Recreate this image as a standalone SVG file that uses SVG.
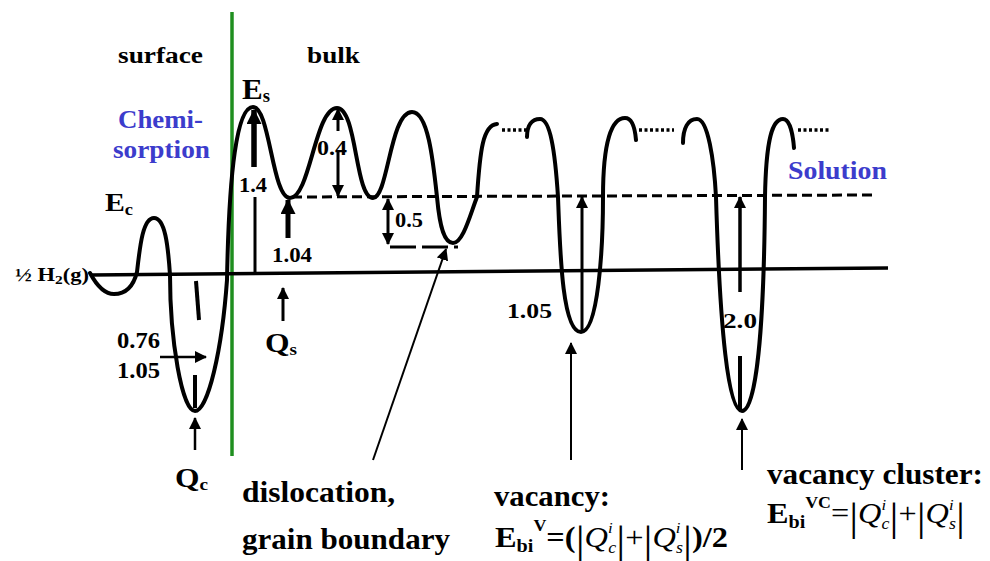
<svg xmlns="http://www.w3.org/2000/svg" width="990" height="561" viewBox="0 0 990 561">
<style>
text{font-family:'Liberation Serif','DejaVu Serif',serif;font-weight:bold;fill:#000}
.blue{fill:#3c3ccc}
.n{font-weight:normal}
.it{font-style:italic;font-weight:normal}
.curve{fill:none;stroke:#000;stroke-width:4;stroke-linecap:round;stroke-linejoin:round}
.ln{stroke:#000;fill:none}
.dash{stroke:#000;stroke-width:3;fill:none;stroke-dasharray:10 5}
.dot{stroke:#000;stroke-width:3.5;fill:none;stroke-dasharray:3 2.5}
</style>
<defs>
<marker id="ah" viewBox="0 0 12 12" refX="11" refY="6" markerWidth="12" markerHeight="12" markerUnits="userSpaceOnUse" orient="auto-start-reverse"><path d="M0,0 L12,6 L0,12 z" fill="#000"/></marker>
<marker id="ahL" viewBox="0 0 14 14" refX="13" refY="7" markerWidth="15" markerHeight="15" markerUnits="userSpaceOnUse" orient="auto-start-reverse"><path d="M0,0 L14,7 L0,14 z" fill="#000"/></marker>
</defs>
<rect width="990" height="561" fill="#fff"/>

<g id="boundary">
<line x1="232" y1="12" x2="232" y2="456" stroke="#1f8f1f" stroke-width="3.5"/>
</g>

<g id="levels">
<line class="ln" x1="91" y1="275" x2="888" y2="268" stroke-width="3.5"/>
<line class="dash" x1="292" y1="197" x2="876" y2="195"/>
<line x1="390" y1="247" x2="458" y2="247" stroke="#000" stroke-width="3" stroke-dasharray="26 6"/>
<line class="dot" x1="502" y1="130" x2="526" y2="130"/>
<line class="dot" x1="639" y1="130" x2="674" y2="130"/>
<line class="dot" x1="798" y1="130" x2="831" y2="130"/>
</g>

<g id="profile">
<path class="curve" d="M 90 273 C 98 288, 106 294, 114 294 C 124 294, 133 288, 137 272 C 140 245, 143 218, 154 218 C 165 218, 168 245, 170 275 C 170 340, 182 411, 195 411 C 208 411, 222 350, 227 280 C 229 170, 237 107, 253 107 C 270 107, 272 198, 290 198 C 310 198, 315 108, 337 108 C 357 108, 355 198, 373 198 C 388 198, 390 112, 412 112 C 428 112, 433 160, 437 197 C 440 230, 445 243, 453 243 C 463 243, 470 215, 477 197 C 480 150, 483 125, 497 124"/>
<path class="curve" d="M 527 137 C 527 125, 532 119, 540 119 C 550 119, 555 150, 558 197 C 560 250, 562 332, 581 332 C 598 332, 603 250, 603 197 C 603 140, 612 118, 625 118 C 632 118, 635 128, 636 140"/>
<path class="curve" d="M 683 143 C 683 128, 688 119, 697 119 C 708 119, 714 160, 716 197 C 720 330, 728 411, 742 411 C 756 411, 764 330, 765 197 C 766 140, 772 119, 783 119 C 790 119, 793 135, 794 148"/>
</g>

<g id="connectors">
<line class="ln" x1="254" y1="167" x2="254" y2="110" stroke-width="5.5" marker-end="url(#ahL)"/>
<line class="ln" x1="255" y1="197" x2="255" y2="275" stroke-width="3"/>
<line class="ln" x1="288" y1="238" x2="288" y2="200" stroke-width="5" marker-end="url(#ahL)"/>
<line class="ln" x1="283" y1="321" x2="283" y2="288" stroke-width="3" marker-end="url(#ah)"/>
<line class="ln" x1="338" y1="131" x2="338" y2="109" stroke-width="3" marker-end="url(#ah)"/>
<line class="ln" x1="338" y1="151" x2="338" y2="196" stroke-width="3" marker-end="url(#ah)"/>
<line class="ln" x1="388" y1="199" x2="388" y2="244" stroke-width="3" marker-start="url(#ah)" marker-end="url(#ah)"/>
<line class="ln" x1="373" y1="460" x2="446" y2="249" stroke-width="2" marker-end="url(#ah)"/>
<line class="ln" x1="571" y1="460" x2="571" y2="343" stroke-width="2" marker-end="url(#ah)"/>
<line class="ln" x1="582" y1="330" x2="582" y2="197" stroke-width="3" marker-end="url(#ah)"/>
<line class="ln" x1="740" y1="292" x2="740" y2="197" stroke-width="3.5" marker-end="url(#ah)"/>
<line class="ln" x1="740" y1="356" x2="740" y2="409" stroke-width="4"/>
<line class="ln" x1="742" y1="470" x2="742" y2="419" stroke-width="2" marker-end="url(#ah)"/>
<line class="ln" x1="195" y1="450" x2="195" y2="418" stroke-width="2.5" marker-end="url(#ah)"/>
<line class="ln" x1="160" y1="357" x2="206" y2="357" stroke-width="2.5" marker-end="url(#ah)"/>
<line class="ln" x1="196" y1="281" x2="199" y2="320" stroke-width="4"/>
<line class="ln" x1="195" y1="375" x2="195" y2="408" stroke-width="4"/>
</g>

<g id="labels">
<text x="118" y="63" font-size="24" textLength="85" lengthAdjust="spacingAndGlyphs">surface</text>
<text x="307" y="63" font-size="24" textLength="53" lengthAdjust="spacingAndGlyphs">bulk</text>
<text class="blue" x="118" y="128" font-size="26" textLength="85" lengthAdjust="spacingAndGlyphs">Chemi-</text>
<text class="blue" x="113" y="158" font-size="26" textLength="97" lengthAdjust="spacingAndGlyphs">sorption</text>
<text class="blue" x="788" y="179" font-size="26" textLength="99" lengthAdjust="spacingAndGlyphs">Solution</text>
<text x="242" y="99" font-size="30" textLength="28" lengthAdjust="spacingAndGlyphs">E<tspan font-size="18" y="102">s</tspan></text>
<text x="105" y="211" font-size="26" textLength="28" lengthAdjust="spacingAndGlyphs">E<tspan font-size="16" y="215">c</tspan></text>
<text x="15" y="281" font-size="19" textLength="74" lengthAdjust="spacingAndGlyphs">½ H<tspan font-size="13" y="284">2</tspan><tspan y="281">(g)</tspan></text>
<text x="239" y="192" font-size="22" textLength="28" lengthAdjust="spacingAndGlyphs">1.4</text>
<text x="272" y="262" font-size="22" textLength="40" lengthAdjust="spacingAndGlyphs">1.04</text>
<text x="317" y="155" font-size="21" textLength="30" lengthAdjust="spacingAndGlyphs">0.4</text>
<text x="395" y="227" font-size="21" textLength="28" lengthAdjust="spacingAndGlyphs">0.5</text>
<text x="117" y="348" font-size="23" textLength="43" lengthAdjust="spacingAndGlyphs">0.76</text>
<text x="117" y="378" font-size="23" textLength="43" lengthAdjust="spacingAndGlyphs">1.05</text>
<text x="265" y="352" font-size="28" textLength="32" lengthAdjust="spacingAndGlyphs">Q<tspan font-size="17" y="355">s</tspan></text>
<text x="175" y="487" font-size="28" textLength="33" lengthAdjust="spacingAndGlyphs">Q<tspan font-size="17" y="490">c</tspan></text>
<text x="507" y="318" font-size="22" textLength="45" lengthAdjust="spacingAndGlyphs">1.05</text>
<text x="723" y="328" font-size="22" textLength="34" lengthAdjust="spacingAndGlyphs">2.0</text>
<text x="242" y="502" font-size="30" textLength="153" lengthAdjust="spacingAndGlyphs">dislocation,</text>
<text x="242" y="549" font-size="30" textLength="208" lengthAdjust="spacingAndGlyphs">grain boundary</text>
<text x="494" y="506" font-size="30" textLength="116" lengthAdjust="spacingAndGlyphs">vacancy:</text>
<text x="767" y="484" font-size="30" textLength="216" lengthAdjust="spacingAndGlyphs">vacancy cluster:</text>
<text x="495" y="547" font-size="29" textLength="233" lengthAdjust="spacingAndGlyphs">E<tspan font-size="18" y="552">bi</tspan><tspan font-size="16" y="531">V</tspan><tspan y="547">=(</tspan><tspan class="n" font-size="40" y="553">|</tspan><tspan class="it" y="547">Q</tspan><tspan class="it" font-size="15" y="533">i</tspan><tspan class="it" font-size="16" y="553" dx="-4">c</tspan><tspan class="n" font-size="40" y="553">|</tspan><tspan class="n" y="547">+</tspan><tspan class="n" font-size="40" y="553">|</tspan><tspan class="it" y="547">Q</tspan><tspan class="it" font-size="15" y="533">i</tspan><tspan class="it" font-size="16" y="553" dx="-4">s</tspan><tspan class="n" font-size="40" y="553">|</tspan><tspan y="547">)/2</tspan></text>
<text x="767" y="523" font-size="29" textLength="198" lengthAdjust="spacingAndGlyphs">E<tspan font-size="18" y="528">bi</tspan><tspan font-size="16" y="508">VC</tspan><tspan class="n" y="523">=</tspan><tspan class="n" font-size="40" y="530">|</tspan><tspan class="it" y="523">Q</tspan><tspan class="it" font-size="15" y="510">i</tspan><tspan class="it" font-size="16" y="529" dx="-4">c</tspan><tspan class="n" font-size="40" y="530">|</tspan><tspan class="n" y="523">+</tspan><tspan class="n" font-size="40" y="530">|</tspan><tspan class="it" y="523">Q</tspan><tspan class="it" font-size="15" y="510">i</tspan><tspan class="it" font-size="16" y="529" dx="-4">s</tspan><tspan class="n" font-size="40" y="530">|</tspan></text>
</g>
</svg>
